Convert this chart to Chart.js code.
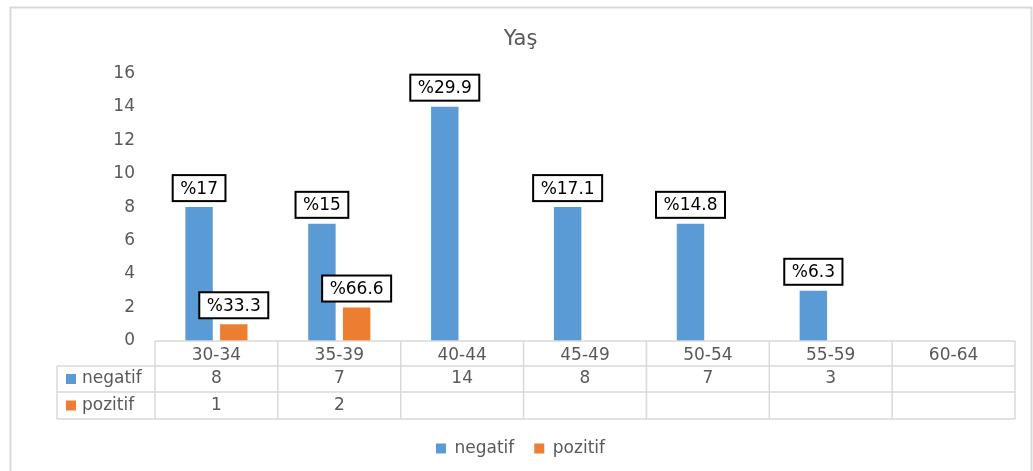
<!DOCTYPE html>
<html>
<head>
<meta charset="utf-8">
<script src="https://cdn.jsdelivr.net/npm/chart.js@4/dist/chart.umd.min.js"></script>
<style>
  body { margin: 0; background: #fff; }
  canvas { display: block; }
</style>
</head>
<body>
<canvas id="grafik" width="1033" height="471"></canvas>
<script>
// veriler
const kategoriler = ['30-34', '35-39', '40-44', '45-49', '50-54', '55-59', '60-64']
const negatif = [8, 7, 14, 8, 7, 3, null]
const pozitif = [1, 2, null, null, null, null, null]
const negatifYuzde = ['%17', '%15', '%29.9', '%17.1', '%14.8', '%6.3', null]
const pozitifYuzde = ['%33.3', '%66.6', null, null, null, null, null]
const yMax = 16
const yAdim = 2

const mavi = '#5B9BD5'
const turuncu = '#ED7D31'
const gri = '#595959'
const cizgi = '#d9d9d9'

document.addEventListener('DOMContentLoaded', function () {

  Chart.defaults.font.family = "'DejaVu Sans', sans-serif"
  Chart.defaults.color = gri

  // cerceve
  const cerceve = {
    id: 'cerceve',
    beforeDraw(chart) {
      const ctx = chart.ctx
      ctx.save()
      ctx.fillStyle = '#fff'
      ctx.fillRect(0, 0, chart.width, chart.height)
      ctx.strokeStyle = cizgi
      ctx.lineWidth = 2
      ctx.strokeRect(10.5, 7.5, chart.width - 12, chart.height + 20)
      ctx.restore()
    }
  }

  // yuzde kutulari
  const etiketler = {
    id: 'etiketler',
    afterDatasetsDraw(chart) {
      const ctx = chart.ctx
      const yuzdeler = [negatifYuzde, pozitifYuzde]
      ctx.save()
      ctx.font = "17px 'DejaVu Sans'"
      ctx.textAlign = 'center'
      ctx.textBaseline = 'middle'
      chart.data.datasets.forEach((ds, i) => {
        const meta = chart.getDatasetMeta(i)
        meta.data.forEach((bar, j) => {
          const metin = yuzdeler[i][j]
          if (ds.data[j] == null || !metin) return
          const g = ctx.measureText(metin).width + 15
          const h = 26
          const x = bar.x - g / 2
          const y = bar.y - 6 - h
          ctx.fillStyle = '#fff'
          ctx.fillRect(x, y, g, h)
          ctx.strokeStyle = '#000'
          ctx.lineWidth = 2
          ctx.strokeRect(x, y, g, h)
          ctx.fillStyle = '#000'
          ctx.fillText(metin, bar.x, y + h / 2 + 1)
        })
      })
      ctx.restore()
    }
  }

  // veri tablosu
  const tablo = {
    id: 'tablo',
    afterDraw(chart) {
      const ctx = chart.ctx
      const xs = chart.scales.x
      const alan = chart.chartArea
      const sol = alan.left
      const sag = alan.right
      const ust = alan.bottom
      const satir = [ust, ust + 25, ust + 51, ust + 78]
      const anahtarSol = 57
      const n = kategoriler.length
      const gen = (sag - sol) / n
      ctx.save()
      ctx.strokeStyle = cizgi
      ctx.lineWidth = 1.5
      ctx.beginPath()
      ctx.moveTo(sol, satir[0]); ctx.lineTo(sag, satir[0])
      for (let r = 1; r < 4; r++) {
        ctx.moveTo(anahtarSol, satir[r]); ctx.lineTo(sag, satir[r])
      }
      ctx.moveTo(anahtarSol, satir[1]); ctx.lineTo(anahtarSol, satir[3])
      for (let i = 0; i <= n; i++) {
        const x = sol + i * gen
        ctx.moveTo(x, satir[0]); ctx.lineTo(x, satir[3])
      }
      ctx.stroke()

      ctx.font = "17px 'DejaVu Sans'"
      ctx.textBaseline = 'middle'
      const seriler = [['negatif', mavi, negatif], ['pozitif', turuncu, pozitif]]
      seriler.forEach((s, r) => {
        const yOrta = (satir[r + 1] + satir[r + 2]) / 2
        ctx.fillStyle = s[1]
        ctx.fillRect(66, yOrta - 5, 10, 10)
        ctx.fillStyle = gri
        ctx.textAlign = 'left'
        ctx.fillText(s[0], 82, yOrta)
        ctx.textAlign = 'center'
        s[2].forEach((v, j) => {
          if (v == null) return
          ctx.fillText(String(v), xs.getPixelForValue(j), yOrta)
        })
      })
      ctx.restore()
    }
  }

  new Chart(document.getElementById('grafik'), {
    type: 'bar',
    data: {
      labels: kategoriler,
      datasets: [
        { label: 'negatif', data: negatif, backgroundColor: mavi, borderWidth: 0, yAxisID: 'y' },
        { label: 'pozitif', data: pozitif, backgroundColor: turuncu, borderWidth: 0, yAxisID: 'y' }
      ]
    },
    options: {
      responsive: false,
      animation: false,
      categoryPercentage: 0.565,
      barPercentage: 0.79,
      layout: { padding: { top: 17, left: 10, right: 2, bottom: 4 } },
      plugins: {
        title: {
          display: true,
          text: 'Yaş',
          color: gri,
          font: { size: 21, weight: 'normal' },
          padding: { top: 10, bottom: 21 }
        },
        legend: {
          position: 'bottom',
          labels: { color: gri, font: { size: 17 }, boxWidth: 10, boxHeight: 10, padding: 20 }
        },
        tooltip: { enabled: false }
      },
      scales: {
        x: {
          grid: { display: false, drawTicks: false },
          border: { display: false },
          ticks: { color: gri, font: { size: 17 }, padding: 4, maxRotation: 0 },
          afterFit(scale) { scale.height = 79 }
        },
        y: {
          min: 0,
          max: yMax,
          grid: { display: false, drawTicks: false },
          border: { display: false },
          ticks: { stepSize: yAdim, color: gri, font: { size: 17 }, padding: 20 },
          afterFit(scale) { scale.width = 145 }
        },
        yR: {
          type: 'linear',
          position: 'right',
          grid: { display: false, drawTicks: false },
          border: { display: false },
          ticks: { display: false },
          afterFit(scale) { scale.width = 16 }
        }
      }
    },
    plugins: [cerceve, etiketler, tablo]
  })
})
</script>
</body>
</html>
